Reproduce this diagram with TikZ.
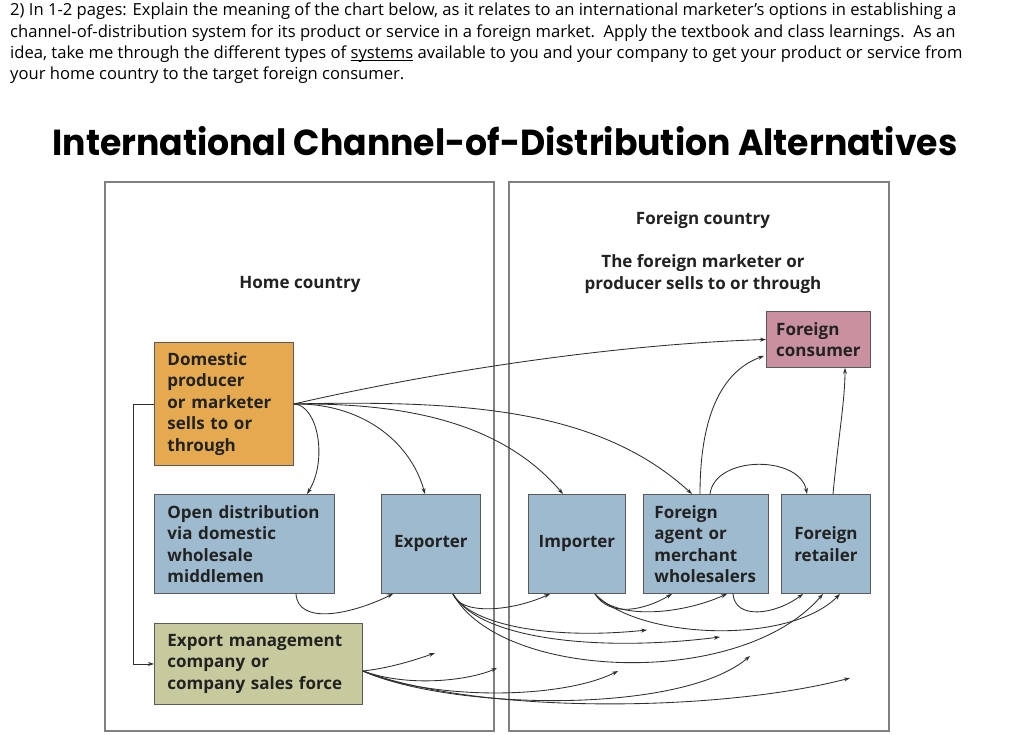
\documentclass[tikz,border=0pt]{standalone}
\usepackage{fontspec}
\usepackage{graphicx}
\setmainfont{Open Sans}
\newfontfamily\labelfont{Open Sans}
\newfontfamily\titlefont{Poppins}
\usetikzlibrary{positioning,arrows.meta,calc}

\definecolor{producerorange}{HTML}{E5AA50}
\definecolor{channelblue}{HTML}{9DBACE}
\definecolor{mgmtgreen}{HTML}{C7CA9C}
\definecolor{consumerpink}{HTML}{C9909F}
\definecolor{boxline}{HTML}{5A5A5A}
\definecolor{panelline}{HTML}{808080}
\definecolor{linkgray}{HTML}{2E2E2E}
\definecolor{labeltext}{HTML}{222222}

\newcommand{\ulword}[1]{\setbox0\hbox{#1}\rlap{\rule[-2.5pt]{\wd0}{0.9pt}}#1}

\begin{document}
\begin{tikzpicture}[x=1pt,y=-1pt,>={Stealth[length=6pt,width=4pt]},
                    box node/.style={draw=boxline,line width=0.9pt,anchor=north west,
                    font=\labelfont\bfseries\fontsize{17}{21.5}\selectfont,text=labeltext,
                    inner sep=0pt},
                    heading/.style={font=\labelfont\bfseries\fontsize{17}{21.5}\selectfont,
                    text=labeltext,align=center},
                    link/.style={->,draw=linkgray,line width=0.85pt},
                    panel/.style={draw=panelline,line width=1.2pt}]

\useasboundingbox[fill=white] (0,0) rectangle (1024,734);

% question and title
\node[anchor=north west,align=left,inner sep=0pt,
      font=\fontsize{16.6}{21.3}\selectfont] (question) at (10,3) {%
2) In 1-2 pages: Explain the meaning of the chart below, as it relates to an international marketer's options in establishing a\\
channel-of-distribution system for its product or service in a foreign market.\ \ Apply the textbook and class learnings.\ \ As an\\
idea, take me through the different types of \ulword{systems} available to you and your company to get your product or service from\\
your home country to the target foreign consumer.};

\node[inner sep=0pt] (title) at (505,141)
  {\resizebox{905pt}{29pt}{\titlefont\bfseries International Channel-of-Distribution Alternatives}};

% panels
\draw[panel] (105,182) rectangle (494,731);
\draw[panel] (509,182) rectangle (889,731);

\node[heading] (home) at (300,284) {Home country};
\node[heading] (foreign) at (703,220) {Foreign country};
\node[heading,below=19pt of foreign] (sellsto) {The foreign marketer or\\producer sells to or through};

% boxes
\node[box node,fill=producerorange,inner xsep=13pt,text width=113pt,minimum height=123pt,align=left]
  (producer) at (154,342) {Domestic\\producer\\or marketer\\sells to or\\through};
\node[box node,fill=channelblue,inner xsep=13pt,text width=154pt,minimum height=99pt,align=left]
  (opendist) at (154,494) {Open distribution\\via domestic\\wholesale\\middlemen};
\node[box node,fill=mgmtgreen,inner xsep=13pt,text width=182pt,minimum height=81pt,align=left]
  (mgmt) at (154,623) {Export management\\company or\\company sales force};
\node[box node,fill=channelblue,minimum width=99pt,minimum height=99pt]
  (exporter) at (381,494) {Exporter};
\node[box node,fill=channelblue,minimum width=97pt,minimum height=99pt]
  (importer) at (528,494) {Importer};
\node[box node,fill=channelblue,inner xsep=11pt,text width=103pt,minimum height=99pt,align=left]
  (agent) at (643,494) {Foreign\\agent or\\merchant\\wholesalers};
\node[box node,fill=channelblue,minimum width=89pt,minimum height=99pt,align=left]
  (retailer) at (781,494) {Foreign\\retailer};
\node[box node,fill=consumerpink,minimum width=104pt,minimum height=56pt,align=left]
  (consumer) at (766,311) {Foreign\\consumer};

% anchor points on the boxes
\coordinate (producer out) at (producer.east);
\coordinate (opendist top) at ($(opendist.north west)+(153,0)$);
\coordinate (opendist bottom) at ($(opendist.south west)+(142,0)$);
\coordinate (exporter top) at ($(exporter.north west)+(44,0)$);
\coordinate (exporter in) at ($(exporter.south west)+(12,0)$);
\coordinate (exporter out) at ($(exporter.south west)+(72,0)$);
\coordinate (importer top) at ($(importer.north west)+(35,0)$);
\coordinate (importer in) at ($(importer.south west)+(22,0)$);
\coordinate (importer out) at ($(importer.south west)+(67,0)$);
\coordinate (agent top) at ($(agent.north west)+(49,0)$);
\coordinate (agent up) at ($(agent.north west)+(57,0)$);
\coordinate (agent over) at ($(agent.north west)+(67,0)$);
\coordinate (agent in a) at ($(agent.south west)+(29,0)$);
\coordinate (agent in b) at ($(agent.south west)+(84,0)$);
\coordinate (agent out) at ($(agent.south west)+(90,0)$);
\coordinate (retailer top) at ($(retailer.north west)+(26,0)$);
\coordinate (retailer up) at ($(retailer.north west)+(52,0)$);
\coordinate (retailer in a) at ($(retailer.south west)+(22,0)$);
\coordinate (retailer in b) at ($(retailer.south west)+(42,0)$);
\coordinate (retailer in c) at ($(retailer.south west)+(59,0)$);
\coordinate (consumer side) at ($(consumer.south west)+(-2,-12)$);
\coordinate (consumer bottom) at ($(consumer.south west)+(79,0)$);
\coordinate (mgmt out) at ($(mgmt.north east)+(0,48)$);

% free arrow ends
\coordinate (end a) at (647,630);
\coordinate (end b) at (720,637);
\coordinate (end c) at (435,653);
\coordinate (end d) at (497,668);
\coordinate (end e) at (618,671);
\coordinate (end f) at (750,656);
\coordinate (end g) at (850,678);

% producer links
\draw[link] (producer out) .. controls (420,375) and (600,345) .. (consumer.west);
\draw[link] (producer out) .. controls (470,400) and (600,410) .. (agent top);
\draw[link] (producer out) .. controls (400,403) and (500,420) .. (importer top);
\draw[link] (producer out) .. controls (360,403) and (410,440) .. (exporter top);
\draw[link] (producer out) .. controls (318,405) and (328,460) .. (opendist top);
\draw[link] (producer.west) -- ++(-21,0) |- (mgmt.west);

% home country links
\draw[link] (opendist bottom) .. controls (298,625) and (350,615) .. (exporter in);
\draw[link] (exporter out) .. controls (460,615) and (510,612) .. (importer in);
\draw[link] (exporter out) .. controls (470,625) and (550,640) .. (end a);
\draw[link] (exporter out) .. controls (480,640) and (600,652) .. (end b);
\draw[link] (exporter out) .. controls (500,680) and (740,690) .. (retailer in b);

% foreign country links
\draw[link] (importer out) .. controls (610,618) and (645,610) .. (agent in a);
\draw[link] (importer out) .. controls (615,620) and (680,615) .. (agent in b);
\draw[link] (importer out) .. controls (640,640) and (790,645) .. (retailer in c);
\draw[link] (agent out) .. controls (735,620) and (775,615) .. (retailer in a);
\draw[link] (agent up) .. controls (700,410) and (725,370) .. (consumer side);
\draw[link] (agent over) .. controls (715,455) and (800,455) .. (retailer top);
\draw[link] (retailer up) .. controls (838,440) and (845,400) .. (consumer bottom);

% export management links
\draw[link] (mgmt out) .. controls (390,668) and (415,660) .. (end c);
\draw[link] (mgmt out) .. controls (410,688) and (470,680) .. (end d);
\draw[link] (mgmt out) .. controls (430,700) and (560,700) .. (end e);
\draw[link] (mgmt out) .. controls (450,710) and (680,715) .. (end f);
\draw[link] (mgmt out) .. controls (480,715) and (720,712) .. (end g);

\end{tikzpicture}
\end{document}
